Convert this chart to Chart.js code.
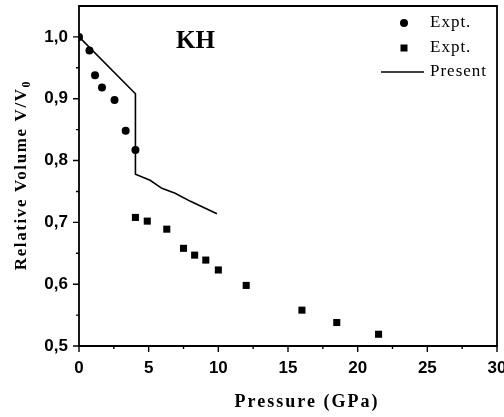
<!DOCTYPE html>
<html>
<head>
<meta charset="utf-8">
<script src="https://cdn.jsdelivr.net/npm/chart.js@4"></script>
<style>
  html, body { margin: 0; padding: 0; background: #fff; overflow: hidden; }
  .chart-box { width: 504px; height: 417px; }
</style>
</head>
<body>
<div class="chart-box"><canvas id="kh"></canvas></div>
<script>
// Expt. (circles)
let exptCircleP = [0, 0.75, 1.15, 1.65, 2.55, 3.35, 4.05];
let exptCircleV = [1.0, 0.978, 0.938, 0.918, 0.898, 0.848, 0.817];
// Expt. (squares)
let exptSquareP = [4.05, 4.9, 6.3, 7.5, 8.3, 9.1, 10.0, 12.0, 16.0, 18.5, 21.5];
let exptSquareV = [0.708, 0.702, 0.689, 0.658, 0.647, 0.639, 0.623, 0.598, 0.558, 0.538, 0.519];
// Present (calculated)
let presentP = [0, 4.05, 4.05, 5.1, 5.95, 6.9, 8.0, 9.9];
let presentV = [1.0, 0.908, 0.778, 0.768, 0.755, 0.747, 0.734, 0.714];

let xTicks = [0, 5, 10, 15, 20, 25, 30];
let yTicks = [0.5, 0.6, 0.7, 0.8, 0.9, 1.0];

function toPoints(xs, ys) {
  return xs.map((x, i) => ({ x: x, y: ys[i] }));
}

function noPadding(axis) {
  axis.paddingLeft = 0;
  axis.paddingRight = 0;
  axis.paddingTop = 0;
  axis.paddingBottom = 0;
}

// frame, minor ticks, panel label, legend, axis titles
const decorations = {
  id: "decorations",
  afterDraw(chart) {
    const ctx = chart.ctx;
    const xs = chart.scales.x;
    const ys = chart.scales.y;
    const left = xs.getPixelForValue(0);
    const right = xs.getPixelForValue(30);
    const top = ys.getPixelForValue(1.05);
    const bottom = ys.getPixelForValue(0.5);
    ctx.save();
    ctx.strokeStyle = "#000";
    ctx.lineWidth = 1.8;
    ctx.beginPath();
    ctx.moveTo(left, bottom);
    ctx.lineTo(left, top);
    ctx.lineTo(right, top);
    ctx.lineTo(right, bottom);
    ctx.closePath();
    ctx.stroke();

    // ticks on bottom and left axes
    ctx.lineWidth = 1.4;
    ctx.beginPath();
    for (let v = 0; v <= 30; v += 2.5) {
      let px = xs.getPixelForValue(v);
      let len = v % 5 == 0 ? 6 : 3;
      ctx.moveTo(px, bottom);
      ctx.lineTo(px, bottom + len);
    }
    for (let i = 0; i <= 10; i++) {
      let v = 0.5 + i * 0.05;
      let py = ys.getPixelForValue(v);
      let len = i % 2 == 0 ? 6 : 3;
      ctx.moveTo(left, py);
      ctx.lineTo(left - len, py);
    }
    ctx.stroke();

    // panel label
    ctx.fillStyle = "#000";
    ctx.font = "bold 25px 'Liberation Serif'";
    ctx.textAlign = "left";
    ctx.textBaseline = "middle";
    ctx.fillText("KH", 176, 42);

    // legend
    const ds = chart.data.datasets;
    ctx.font = "17px 'Liberation Serif'";
    ctx.letterSpacing = "1px";
    const rows = [23, 48, 72];
    ds.forEach((d, i) => {
      let y = rows[i];
      if (d.showLine) {
        ctx.lineWidth = 1.5;
        ctx.beginPath();
        ctx.moveTo(381, y);
        ctx.lineTo(424, y);
        ctx.stroke();
      } else if (d.pointStyle == "circle") {
        ctx.beginPath();
        ctx.arc(404, y, 4, 0, Math.PI * 2);
        ctx.fill();
      } else {
        ctx.fillRect(400.5, y - 3.5, 7, 7);
      }
      ctx.fillText(d.label, 430, y);
    });

    // axis titles
    ctx.font = "bold 18px 'Liberation Serif'";
    ctx.letterSpacing = "2px";
    ctx.textAlign = "center";
    ctx.fillText("Pressure (GPa)", 307, 402);

    ctx.translate(22, 175);
    ctx.rotate(-Math.PI / 2);
    const main = "Relative Volume V/V";
    ctx.letterSpacing = "1.6px";
    ctx.font = "bold 17px 'Liberation Serif'";
    let wMain = ctx.measureText(main).width;
    ctx.font = "bold 12px 'Liberation Serif'";
    let wSub = ctx.measureText("0").width;
    let start = -(wMain + wSub) / 2;
    ctx.textAlign = "left";
    ctx.font = "bold 17px 'Liberation Serif'";
    ctx.fillText(main, start, 0);
    ctx.font = "bold 12px 'Liberation Serif'";
    ctx.fillText("0", start + wMain, 5);
    ctx.restore();
  },
};

new Chart(document.getElementById("kh"), {
  type: "scatter",
  data: {
    datasets: [
      {
        label: "Expt.",
        data: toPoints(exptCircleP, exptCircleV),
        pointStyle: "circle",
        pointRadius: 4,
        backgroundColor: "#000",
        borderColor: "#000",
        borderWidth: 0,
      },
      {
        label: "Expt.",
        data: toPoints(exptSquareP, exptSquareV),
        pointStyle: "rect",
        pointRadius: 5,
        backgroundColor: "#000",
        borderColor: "#000",
        borderWidth: 0,
      },
      {
        label: "Present",
        data: toPoints(presentP, presentV),
        showLine: true,
        pointRadius: 0,
        borderColor: "#000",
        borderWidth: 1.6,
        tension: 0,
      },
    ],
  },
  options: {
    responsive: true,
    maintainAspectRatio: false,
    animation: false,
    layout: { padding: { top: 6, right: 7, left: 0, bottom: 0 } },
    plugins: {
      legend: { display: false },
      tooltip: { enabled: false },
    },
    scales: {
      x: {
        type: "linear",
        min: 0,
        max: 30,
        afterBuildTicks: (axis) => {
          axis.ticks = xTicks.map((v) => ({ value: v }));
        },
        afterFit: (axis) => {
          axis.height = 71;
          noPadding(axis);
        },
        grid: { display: false, drawTicks: false },
        border: { display: false },
        ticks: {
          color: "#000",
          padding: 12,
          maxRotation: 0,
          font: { family: "'Liberation Sans'", size: 17, weight: "bold" },
        },
      },
      y: {
        type: "linear",
        min: 0.5,
        max: 1.05,
        afterBuildTicks: (axis) => {
          axis.ticks = yTicks.map((v) => ({ value: v }));
        },
        afterFit: (axis) => {
          axis.width = 79;
          noPadding(axis);
        },
        grid: { display: false, drawTicks: false },
        border: { display: false },
        ticks: {
          color: "#000",
          padding: 11,
          font: { family: "'Liberation Sans'", size: 17, weight: "bold" },
          callback: (v) => v.toFixed(1).replace(".", ","),
        },
      },
    },
  },
  plugins: [decorations],
});
</script>
</body>
</html>
